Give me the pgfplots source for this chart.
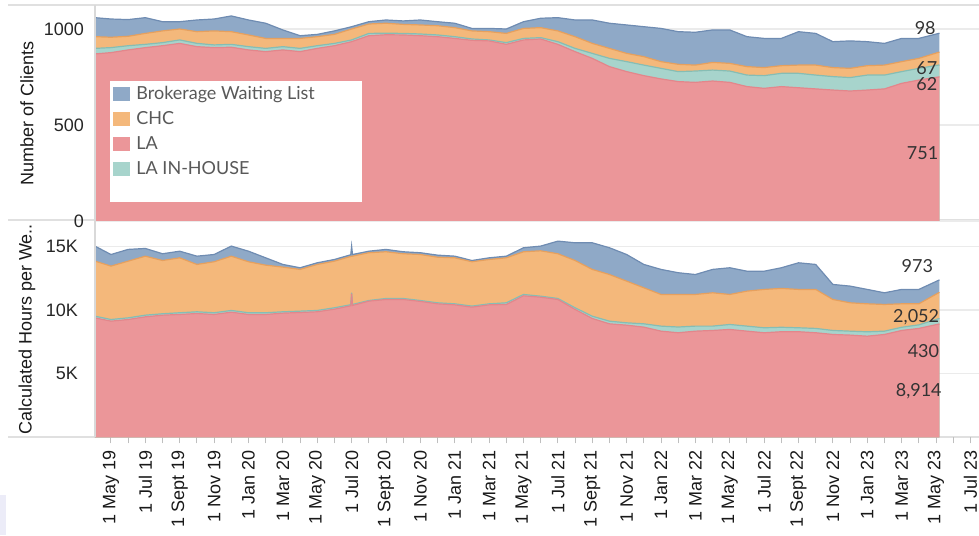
\documentclass[border=0pt]{standalone}
\usepackage{pgfplots}
\pgfplotsset{compat=1.18}
\usepackage{pgfplotstable}
\usepackage{fontspec}
\setmainfont{Liberation Sans}
\newfontfamily\tabfont{Lato}

\definecolor{cLA}{HTML}{EB9699}
\definecolor{cLAd}{HTML}{E3868B}
\definecolor{cIH}{HTML}{A7D4CC}
\definecolor{cIHd}{HTML}{86BDB4}
\definecolor{cCHC}{HTML}{F4B87B}
\definecolor{cCHCd}{HTML}{E6A05E}
\definecolor{cBWL}{HTML}{8FA9C7}
\definecolor{cBWLd}{HTML}{6F8CB2}
\definecolor{lav}{HTML}{ECECF8}

% months since 1 May 2019
\pgfplotstableread{
m     la   ih  chc bwl
-0.93 870  29  61  99
0     877  26  54  95
1     891  22  49  87
2     903  17  57  82
3     913  16  61  48
4     925  18  57  38
5     908  17  61  61
6     903  14  73  62
7     905  15  66  82
8     891  17  61  78
9     882  17  52  79
10    891  17  43  44
11    882  17  52  14
12    899  14  47  12
13    913  12  47  18
14    934   9  57  12
15    965  12  49  12
16    970   8  52  17
17    969   8  47  18
18    965   9  47  26
19    960   9  48  21
20    951   9  47  23
21    941   7  42  13
22    938   5  43  17
23    920   9  48  23
24    943   8  52  35
25    948   7  52  49
26    920  14  56  69
27    882  17  61  87
28    847  26  52 122
29    804  43  52 131
30    778  52  43 148
31    757  55  44 156
32    740  55  35 173
33    726  52  38 170
34    722  59  31 171
35    729  57  40 169
36    722  59  40 174
37    700  60  44 156
38    691  66  42 152
39    700  69  40 142
40    694  75  43 174
41    688  72  52 165
42    682  70  47 135
43    677  70  48 143
44    682  78  49 125
45    688  72  52 113
46    717  61  52 121
47    734  61  52 104
48.2  751  62  67  98
}\clients

\pgfplotstableread{
m     la    ih   chc  bwl
-0.93 9390  130  4320 1176
0     9130  130  4190  910
1     9260  130  4450  920
2     9470  130  4630  605
3     9600  110  4180  530
4     9655  135  4310  520
5     9730  135  3715  650
6     9655  135  4000  570
7     9835  135  4260  790
8     9655  135  4000  830
9     9655  135  3735  575
10    9760  105  3505  210
11    9810  105  3275  130
12    9865  105  3610  130
13    10070 110  3660  130
13.95 10340  80  3790  130
14    11280  80  2870  790
14.05 10360  80  3790  130
15    10700  50  3750  120
16    10830  80  3665  185
17    10830  80  3510  155
18    10680  70  3610  140
19    10490  80  3580  160
20    10410  80  3610  130
21    10230  80  3480  100
22    10410  80  3480  130
23    10440 130  3530  130
24    11120 105  3350  315
25    11010  80  3560  370
26    10830  80  3510  990
27    10050 130  3710 1390
28    9340  180  3670 2090
29    8920  210  3660 2100
30    8815  185  3270 2090
31    8660  260  2830 1830
32    8345  395  2485 1965
33    8220  450  2555 1705
34    8345  395  2485 1565
35    8400  340  2615 1835
36    8480  390  2355 2095
37    8345  395  2745 1565
38    8220  390  3010 1430
39    8300  350  3050 1620
40    8300  310  3010 2090
41    8220  340  3060 1960
42    8085  315  2430 1180
43    8035  310  2225 1310
44    7950  345  2195 1130
45    8085  260  2095  915
46    8400  250  1840 1130
47    8560  280  1650 1130
48.2  8914  430  2052  973
}\hours

\pgfplotsset{
  panel/.style={
    scale only axis, width=442pt, height=108pt, anchor=south west,
    xmin=-0.93, xmax=50.5,
    axis line style={draw=none},
    scaled y ticks=false,
    ymajorgrids, grid style={draw=black!8, line width=0.7pt},
    ytick style={draw=none},
    yticklabel style={font=\fontsize{9}{10}\selectfont, text=black!85, xshift=-2pt},
    every axis y label/.style={at={(rel axis cs:-0.077,0.5)}, rotate=90, anchor=center,
      font=\fontsize{9}{10}\selectfont, text=black!90},
  },
  band/.style={draw=none, fill=#1},
  edge/.style={draw=#1, line width=0.6pt},
}

\newcommand\stackfour[1]{%
  \addplot[band=cBWL] table[x=m, y expr=\thisrow{la}+\thisrow{ih}+\thisrow{chc}+\thisrow{bwl}] {#1} \closedcycle;
  \addplot[band=cCHC] table[x=m, y expr=\thisrow{la}+\thisrow{ih}+\thisrow{chc}] {#1} \closedcycle;
  \addplot[band=cIH] table[x=m, y expr=\thisrow{la}+\thisrow{ih}] {#1} \closedcycle;
  \addplot[band=cLA] table[x=m, y=la] {#1} \closedcycle;
  \addplot[edge=cBWLd] table[x=m, y expr=\thisrow{la}+\thisrow{ih}+\thisrow{chc}+\thisrow{bwl}] {#1};
  \addplot[edge=cCHCd] table[x=m, y expr=\thisrow{la}+\thisrow{ih}+\thisrow{chc}] {#1};
  \addplot[edge=cIHd] table[x=m, y expr=\thisrow{la}+\thisrow{ih}] {#1};
  \addplot[edge=cLAd] table[x=m, y=la] {#1};
}

\begin{document}
\begin{tikzpicture}
\useasboundingbox (0pt,0pt) rectangle (489.5pt,267.5pt);
\fill[lav] (0pt,0pt) rectangle (3pt,20pt);
% panel separators
\draw[black!12, line width=1pt] (4pt,265pt) -- (489.5pt,265pt);
\draw[black!12, line width=1pt] (4pt,157.25pt) -- (489.5pt,157.25pt);
\draw[black!12, line width=1pt] (4pt,48.75pt) -- (489.5pt,48.75pt);

% ---- top: number of clients ----
\begin{axis}[panel, at={(47.5pt,157pt)},
  ymin=0, ymax=1125, ytick={0,500,1000}, yticklabels={0,500,1000},
  xtick=\empty,
  ylabel={Number of Clients},
  legend style={at={(rel axis cs:0.0204,0.630)}, anchor=north west, draw=none, fill=none,
    font=\tabfont\fontsize{9}{10}\selectfont, text=black!65, row sep=3.5pt,
    inner sep=0pt, nodes={inner sep=0pt, text height=7pt, text depth=2pt},
    /tikz/every odd column/.append style={column sep=3pt}},
  legend cell align=left,
  legend image code/.code={\fill[#1] (0pt,-3.5pt) rectangle (8.5pt,3.5pt);},
]
\addlegendimage{fill=cBWL, draw=none}\addlegendentry{Brokerage Waiting List}
\addlegendimage{fill=cCHC, draw=none}\addlegendentry{CHC}
\addlegendimage{fill=cLA, draw=none}\addlegendentry{LA}
\addlegendimage{fill=cIH, draw=none}\addlegendentry{LA IN-HOUSE}
\pgfplotsset{every axis plot/.append style={forget plot}}
\stackfour{\clients}
\fill[white] (rel axis cs:0.017,0.088) rectangle (rel axis cs:0.302,0.648);
\begin{scope}[every node/.style={anchor=east, font=\tabfont\fontsize{9}{10}\selectfont, text=black!80, inner sep=0pt}]
\node at (axis cs:48.0,1005) {98};
\node at (axis cs:48.1,797) {67};
\node at (axis cs:48.1,713) {62};
\node at (axis cs:48.15,354) {751};
\end{scope}
\end{axis}

% ---- bottom: calculated hours ----
\begin{axis}[panel, at={(47.5pt,48.75pt)},
  ymin=0, ymax=16950, ytick={5000,10000,15000}, yticklabels={5K,10K,15K},
  ylabel={Calculated Hours per We..},
  xtick={0,2,...,50}, minor xtick={-1,1,...,49},
  xtick pos=bottom, tick align=outside,
  xtick style={draw=black!25, line width=0.5pt},
  major tick length=3pt, minor tick length=3pt,
  xticklabels={1 May 19,1 Jul 19,1 Sept 19,1 Nov 19,1 Jan 20,1 Mar 20,1 May 20,1 Jul 20,1 Sept 20,1 Nov 20,1 Jan 21,1 Mar 21,1 May 21,1 Jul 21,1 Sept 21,1 Nov 21,1 Jan 22,1 Mar 22,1 May 22,1 Jul 22,1 Sept 22,1 Nov 22,1 Jan 23,1 Mar 23,1 May 23,1 Jul 23},
  xticklabel style={rotate=90, anchor=east, font=\fontsize{9}{10}\selectfont, text=black!90},
]
\stackfour{\hours}
\begin{scope}[every node/.style={anchor=east, font=\tabfont\fontsize{9}{10}\selectfont, text=black!80, inner sep=0pt}]
\node at (axis cs:47.85,13420) {973};
\node at (axis cs:48.2,9420) {2,052};
\node at (axis cs:48.2,6750) {430};
\node at (axis cs:48.35,3610) {8,914};
\end{scope}
\end{axis}

\draw[black!15, line width=0.8pt] (47.5pt,48.75pt) -- (47.5pt,265pt);
\end{tikzpicture}
\end{document}
